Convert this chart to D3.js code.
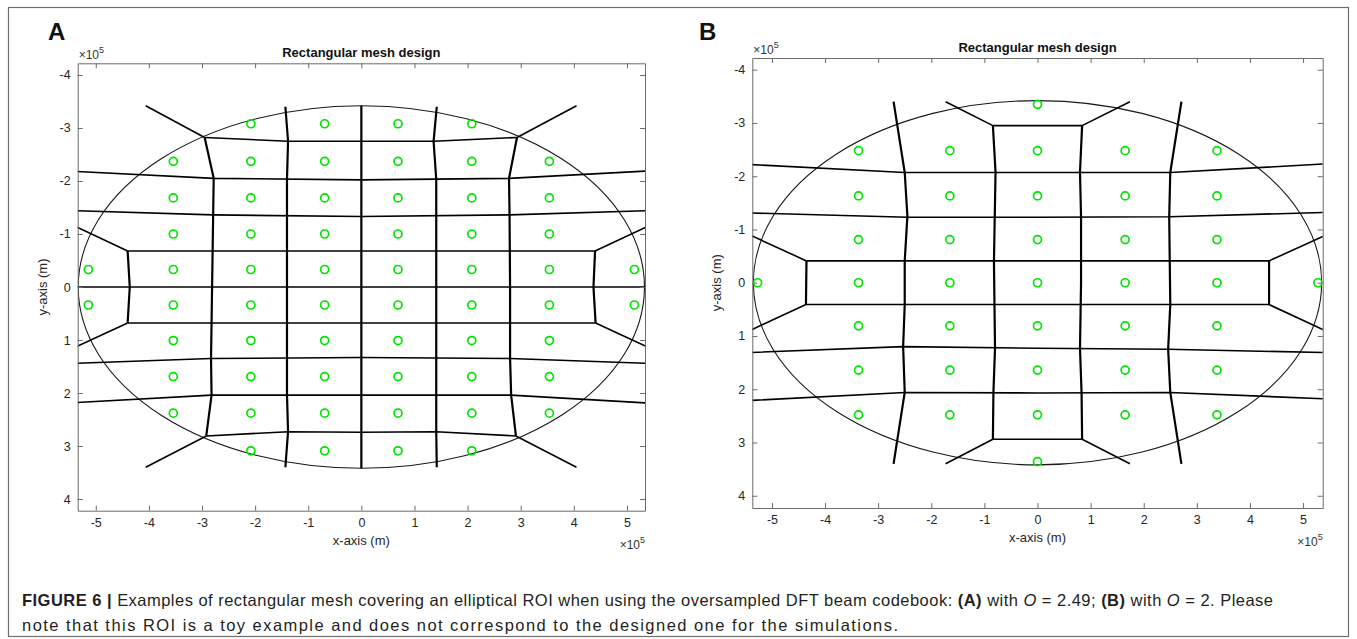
<!DOCTYPE html>
<html>
<head>
<meta charset="utf-8">
<script src="https://cdn.jsdelivr.net/npm/d3@7"></script>
<style>
  body { margin: 0; background: #fff; font-family: "Liberation Sans", Arial, sans-serif; }
  .tick text { font-size: 12.5px; fill: #262626; font-family: "Liberation Sans", Arial, sans-serif; }
  .domain, .tick line { stroke: #6b6b6b; }
</style>
</head>
<body>
<svg id="fig" width="1357" height="639"></svg>
<script>
// ticks (units of 1e5 m)
const xTicks = [-5, -4, -3, -2, -1, 0, 1, 2, 3, 4, 5]
const yTicks = [-4, -3, -2, -1, 0, 1, 2, 3, 4]

// panel A: O = 2.49
const roiA = [5.33, 3.42]
const colsA = [-5.14, -3.54, -2.08, -0.69, 0.69, 2.08, 3.54, 5.14]
const rowsA = [-3.08, -2.37, -1.68, -1.00, -0.33, 0.34, 1.01, 1.69, 2.38, 3.09]
const maskA = [
  '..xxxx..',
  '.xxxxxx.',
  '.xxxxxx.',
  '.xxxxxx.',
  'xxxxxxxx',
  'xxxxxxxx',
  '.xxxxxx.',
  '.xxxxxx.',
  '.xxxxxx.',
  '..xxxx..'
]
const vEdgesA = [
  [[0, -3.42], [0, 3.42]],
  [[-1.43, -3.40], [-1.38, -2.75], [-1.40, -2.03], [-1.40, 2.03], [-1.38, 2.73], [-1.43, 3.40]],
  [[1.42, -3.40], [1.36, -2.75], [1.41, -2.03], [1.41, 2.03], [1.41, 2.73], [1.42, 3.40]],
  [[-2.95, -2.82], [-2.78, -2.05], [-2.79, -1.36], [-2.81, 0], [-2.83, 1.35], [-2.82, 2.04], [-2.92, 2.81]],
  [[2.93, -2.82], [2.78, -2.05], [2.79, -1.36], [2.80, 0], [2.80, 1.35], [2.82, 2.04], [2.91, 2.81]],
  [[-4.40, -0.68], [-4.36, 0], [-4.40, 0.68]],
  [[4.40, -0.68], [4.37, 0], [4.41, 0.68]]
]
const hEdgesA = [
  [[-5.4, 0], [5.4, 0]],
  [[-4.40, -0.68], [4.40, -0.68]],
  [[-4.40, 0.68], [4.41, 0.68]],
  [[-5.4, -1.44], [-2.79, -1.36], [0, -1.33], [2.79, -1.36], [5.4, -1.44]],
  [[-5.4, 1.44], [-2.83, 1.35], [0, 1.33], [2.80, 1.35], [5.4, 1.44]],
  [[-5.4, -2.18], [-2.78, -2.05], [0, -2.02], [2.78, -2.05], [5.4, -2.19]],
  [[-5.4, 2.18], [-2.82, 2.04], [0, 2.04], [2.82, 2.04], [5.4, 2.19]],
  [[-2.95, -2.82], [-1.38, -2.75], [0, -2.75], [1.36, -2.75], [2.93, -2.82]],
  [[-2.92, 2.81], [-1.38, 2.73], [0, 2.74], [1.41, 2.73], [2.91, 2.81]],
  [[-2.95, -2.82], [-4.06, -3.42]],
  [[2.93, -2.82], [4.05, -3.42]],
  [[-2.92, 2.81], [-4.06, 3.40]],
  [[2.91, 2.81], [4.05, 3.40]],
  [[-4.40, -0.68], [-5.4, -1.15]],
  [[4.40, -0.68], [5.4, -1.15]],
  [[-4.40, 0.68], [-5.4, 1.14]],
  [[4.41, 0.68], [5.4, 1.14]]
]

// panel B: O = 2
const roiB = [5.35, 3.42]
const colsB = [-5.27, -3.37, -1.65, 0, 1.65, 3.38, 5.28]
const rowsB = [-3.35, -2.48, -1.63, -0.81, 0, 0.81, 1.64, 2.48, 3.36]
const maskB = [
  '...x...',
  '.xxxxx.',
  '.xxxxx.',
  '.xxxxx.',
  'xxxxxxx',
  '.xxxxx.',
  '.xxxxx.',
  '.xxxxx.',
  '...x...'
]
const vEdgesB = [
  [[-4.35, -0.41], [-4.36, 0.42]],
  [[4.36, -0.41], [4.36, 0.42]],
  [[-0.84, -2.95], [-0.79, -2.08], [-0.82, -0.39], [-0.80, 1.23], [-0.83, 2.06], [-0.84, 2.94]],
  [[0.84, -2.95], [0.80, -2.08], [0.82, -1.23], [0.82, 0], [0.80, 1.23], [0.83, 2.08], [0.84, 2.94]],
  [[-2.71, -3.40], [-2.50, -2.07], [-2.45, -1.25], [-2.50, -0.41], [-2.50, 0.41], [-2.53, 1.20], [-2.50, 2.06], [-2.71, 3.40]],
  [[2.71, -3.40], [2.50, -2.07], [2.48, -1.24], [2.49, -0.41], [2.50, 0.41], [2.46, 1.25], [2.50, 2.06], [2.71, 3.40]]
]
const hEdgesB = [
  [[-4.35, -0.41], [4.36, -0.41]],
  [[-4.36, 0.41], [4.36, 0.41]],
  [[-5.4, -1.31], [-2.45, -1.23], [0, -1.23], [2.48, -1.24], [5.4, -1.32]],
  [[-5.4, 1.31], [-2.53, 1.20], [0, 1.23], [2.46, 1.25], [5.4, 1.31]],
  [[-5.4, -2.22], [-2.50, -2.07], [0, -2.07], [2.50, -2.07], [5.4, -2.23]],
  [[-5.4, 2.21], [-2.50, 2.06], [0, 2.07], [2.50, 2.06], [5.4, 2.18]],
  [[-0.84, -2.95], [0.84, -2.95]],
  [[-0.84, 2.94], [0.84, 2.94]],
  [[-0.84, -2.95], [-1.73, -3.40]],
  [[0.84, -2.95], [1.74, -3.40]],
  [[-0.84, 2.94], [-1.73, 3.40]],
  [[0.84, 2.94], [1.74, 3.40]],
  [[-4.35, -0.41], [-5.4, -0.89]],
  [[4.36, -0.41], [5.4, -0.88]],
  [[-4.36, 0.41], [-5.4, 0.89]],
  [[4.36, 0.41], [5.4, 0.89]]
]

const svg = d3.select('#fig')

// figure frame
svg.append('rect')
  .attr('x', 8.5).attr('y', 7.5)
  .attr('width', 1340).attr('height', 629)
  .attr('fill', 'none').attr('stroke', '#6e6e6e').attr('stroke-width', 1.2)

drawPanel({
  id: 'A', left: 77.7, top: 63.3, width: 567.3, height: 447.4,
  xDomain: [-5.34, 5.34], yDomain: [-4.22, 4.22],
  roi: roiA, cols: colsA, rows: rowsA, mask: maskA, vEdges: vEdgesA, hEdges: hEdgesA,
  letterX: 48
})

drawPanel({
  id: 'B', left: 752.3, top: 58, width: 570.4, height: 450,
  xDomain: [-5.37, 5.37], yDomain: [-4.22, 4.23],
  roi: roiB, cols: colsB, rows: rowsB, mask: maskB, vEdges: vEdgesB, hEdges: hEdgesB,
  letterX: 699
})

function drawPanel (p) {
  const x = d3.scaleLinear().domain(p.xDomain).range([p.left, p.left + p.width])
  // y grows downwards, like MATLAB "axis ij"
  const y = d3.scaleLinear().domain(p.yDomain).range([p.top, p.top + p.height])
  const bottom = p.top + p.height
  const right = p.left + p.width
  const cx = (p.left + right) / 2
  const fmt = d => String(d) // plain hyphen minus, as in the figure

  const g = svg.append('g').attr('class', 'panel-' + p.id)

  g.append('clipPath').attr('id', 'clip' + p.id)
    .append('rect')
    .attr('x', p.left).attr('y', p.top)
    .attr('width', p.width).attr('height', p.height)

  const plot = g.append('g').attr('clip-path', 'url(#clip' + p.id + ')')

  // elliptical ROI
  plot.append('ellipse')
    .attr('cx', x(0)).attr('cy', y(0))
    .attr('rx', x(p.roi[0]) - x(0))
    .attr('ry', y(p.roi[1]) - y(0))
    .attr('fill', 'none')
    .attr('stroke', '#1a1a1a')
    .attr('stroke-width', 1.1)

  const line = d3.line().x(d => x(d[0])).y(d => y(d[1]))

  plot.selectAll('.hedge')
    .data(p.hEdges)
    .enter().append('path')
    .attr('class', 'hedge')
    .attr('d', line)
    .attr('fill', 'none')
    .attr('stroke', '#000')
    .attr('stroke-width', 1.6)
    .attr('stroke-linejoin', 'round')

  plot.selectAll('.vedge')
    .data(p.vEdges)
    .enter().append('path')
    .attr('class', 'vedge')
    .attr('d', line)
    .attr('fill', 'none')
    .attr('stroke', '#000')
    .attr('stroke-width', 2.2)
    .attr('stroke-linejoin', 'round')

  // beam centres
  const pts = []
  p.rows.forEach((ry, i) => {
    p.cols.forEach((rx, j) => {
      if (p.mask[i][j] === 'x') pts.push([rx, ry])
    })
  })

  plot.selectAll('.beam')
    .data(pts)
    .enter().append('circle')
    .attr('class', 'beam')
    .attr('cx', d => x(d[0]))
    .attr('cy', d => y(d[1]))
    .attr('r', 4)
    .attr('fill', 'none')
    .attr('stroke', '#00e400')
    .attr('stroke-width', 1.7)

  // axes, MATLAB style box with inward ticks
  g.append('g')
    .attr('transform', 'translate(0,' + bottom + ')')
    .call(d3.axisBottom(x).tickValues(xTicks).tickFormat(fmt).tickSizeInner(-5).tickSizeOuter(0).tickPadding(7))
  g.append('g')
    .attr('transform', 'translate(0,' + p.top + ')')
    .call(d3.axisTop(x).tickValues(xTicks).tickSizeInner(-5).tickSizeOuter(0).tickFormat(''))
  g.append('g')
    .attr('transform', 'translate(' + p.left + ',0)')
    .call(d3.axisLeft(y).tickValues(yTicks).tickFormat(fmt).tickSizeInner(-5).tickSizeOuter(0).tickPadding(7))
  g.append('g')
    .attr('transform', 'translate(' + right + ',0)')
    .call(d3.axisRight(y).tickValues(yTicks).tickSizeInner(-5).tickSizeOuter(0).tickFormat(''))

  g.selectAll('.domain').attr('stroke-width', 1)

  // texts
  g.append('text')
    .attr('x', p.letterX).attr('y', 40)
    .attr('font-size', 24).attr('font-weight', 'bold').attr('fill', '#111')
    .text(p.id)

  g.append('text')
    .attr('x', cx).attr('y', p.top - 6.5)
    .attr('text-anchor', 'middle')
    .attr('font-size', 13).attr('font-weight', 'bold').attr('fill', '#111')
    .text('Rectangular mesh design')

  const expTop = g.append('text')
    .attr('x', p.left + 1).attr('y', p.top - 4)
    .attr('font-size', 12).attr('fill', '#333')
  expTop.append('tspan').text('\u00d710')
  expTop.append('tspan').attr('dy', -6).attr('font-size', 9).text('5')

  const expBot = g.append('text')
    .attr('x', right).attr('y', bottom + 38)
    .attr('text-anchor', 'end')
    .attr('font-size', 12).attr('fill', '#333')
  expBot.append('tspan').text('\u00d710')
  expBot.append('tspan').attr('dy', -6).attr('font-size', 9).text('5')

  g.append('text')
    .attr('x', cx).attr('y', bottom + 34)
    .attr('text-anchor', 'middle')
    .attr('font-size', 13).attr('fill', '#262626')
    .text('x-axis (m)')

  g.append('text')
    .attr('transform', 'translate(' + (p.left - 31) + ',' + y(0) + ')rotate(-90)')
    .attr('text-anchor', 'middle')
    .attr('font-size', 13).attr('fill', '#262626')
    .text('y-axis (m)')
}

// caption, two lines stretched to the widths seen in the figure
const line1 = svg.append('text')
  .attr('x', 22).attr('y', 606)
  .attr('font-size', 16.5).attr('fill', '#231f20')
  .attr('textLength', 1251).attr('lengthAdjust', 'spacing')
line1.append('tspan').attr('font-weight', 'bold').text('FIGURE 6 | ')
line1.append('tspan').text('Examples of rectangular mesh covering an elliptical ROI when using the oversampled DFT beam codebook: ')
line1.append('tspan').attr('font-weight', 'bold').text('(A)')
line1.append('tspan').text(' with ')
line1.append('tspan').attr('font-style', 'italic').text('O')
line1.append('tspan').text(' = 2.49; ')
line1.append('tspan').attr('font-weight', 'bold').text('(B)')
line1.append('tspan').text(' with ')
line1.append('tspan').attr('font-style', 'italic').text('O')
line1.append('tspan').text(' = 2. Please')

svg.append('text')
  .attr('x', 22).attr('y', 631)
  .attr('font-size', 16.5).attr('fill', '#231f20')
  .attr('textLength', 876).attr('lengthAdjust', 'spacing')
  .text('note that this ROI is a toy example and does not correspond to the designed one for the simulations.')
</script>
</body>
</html>
